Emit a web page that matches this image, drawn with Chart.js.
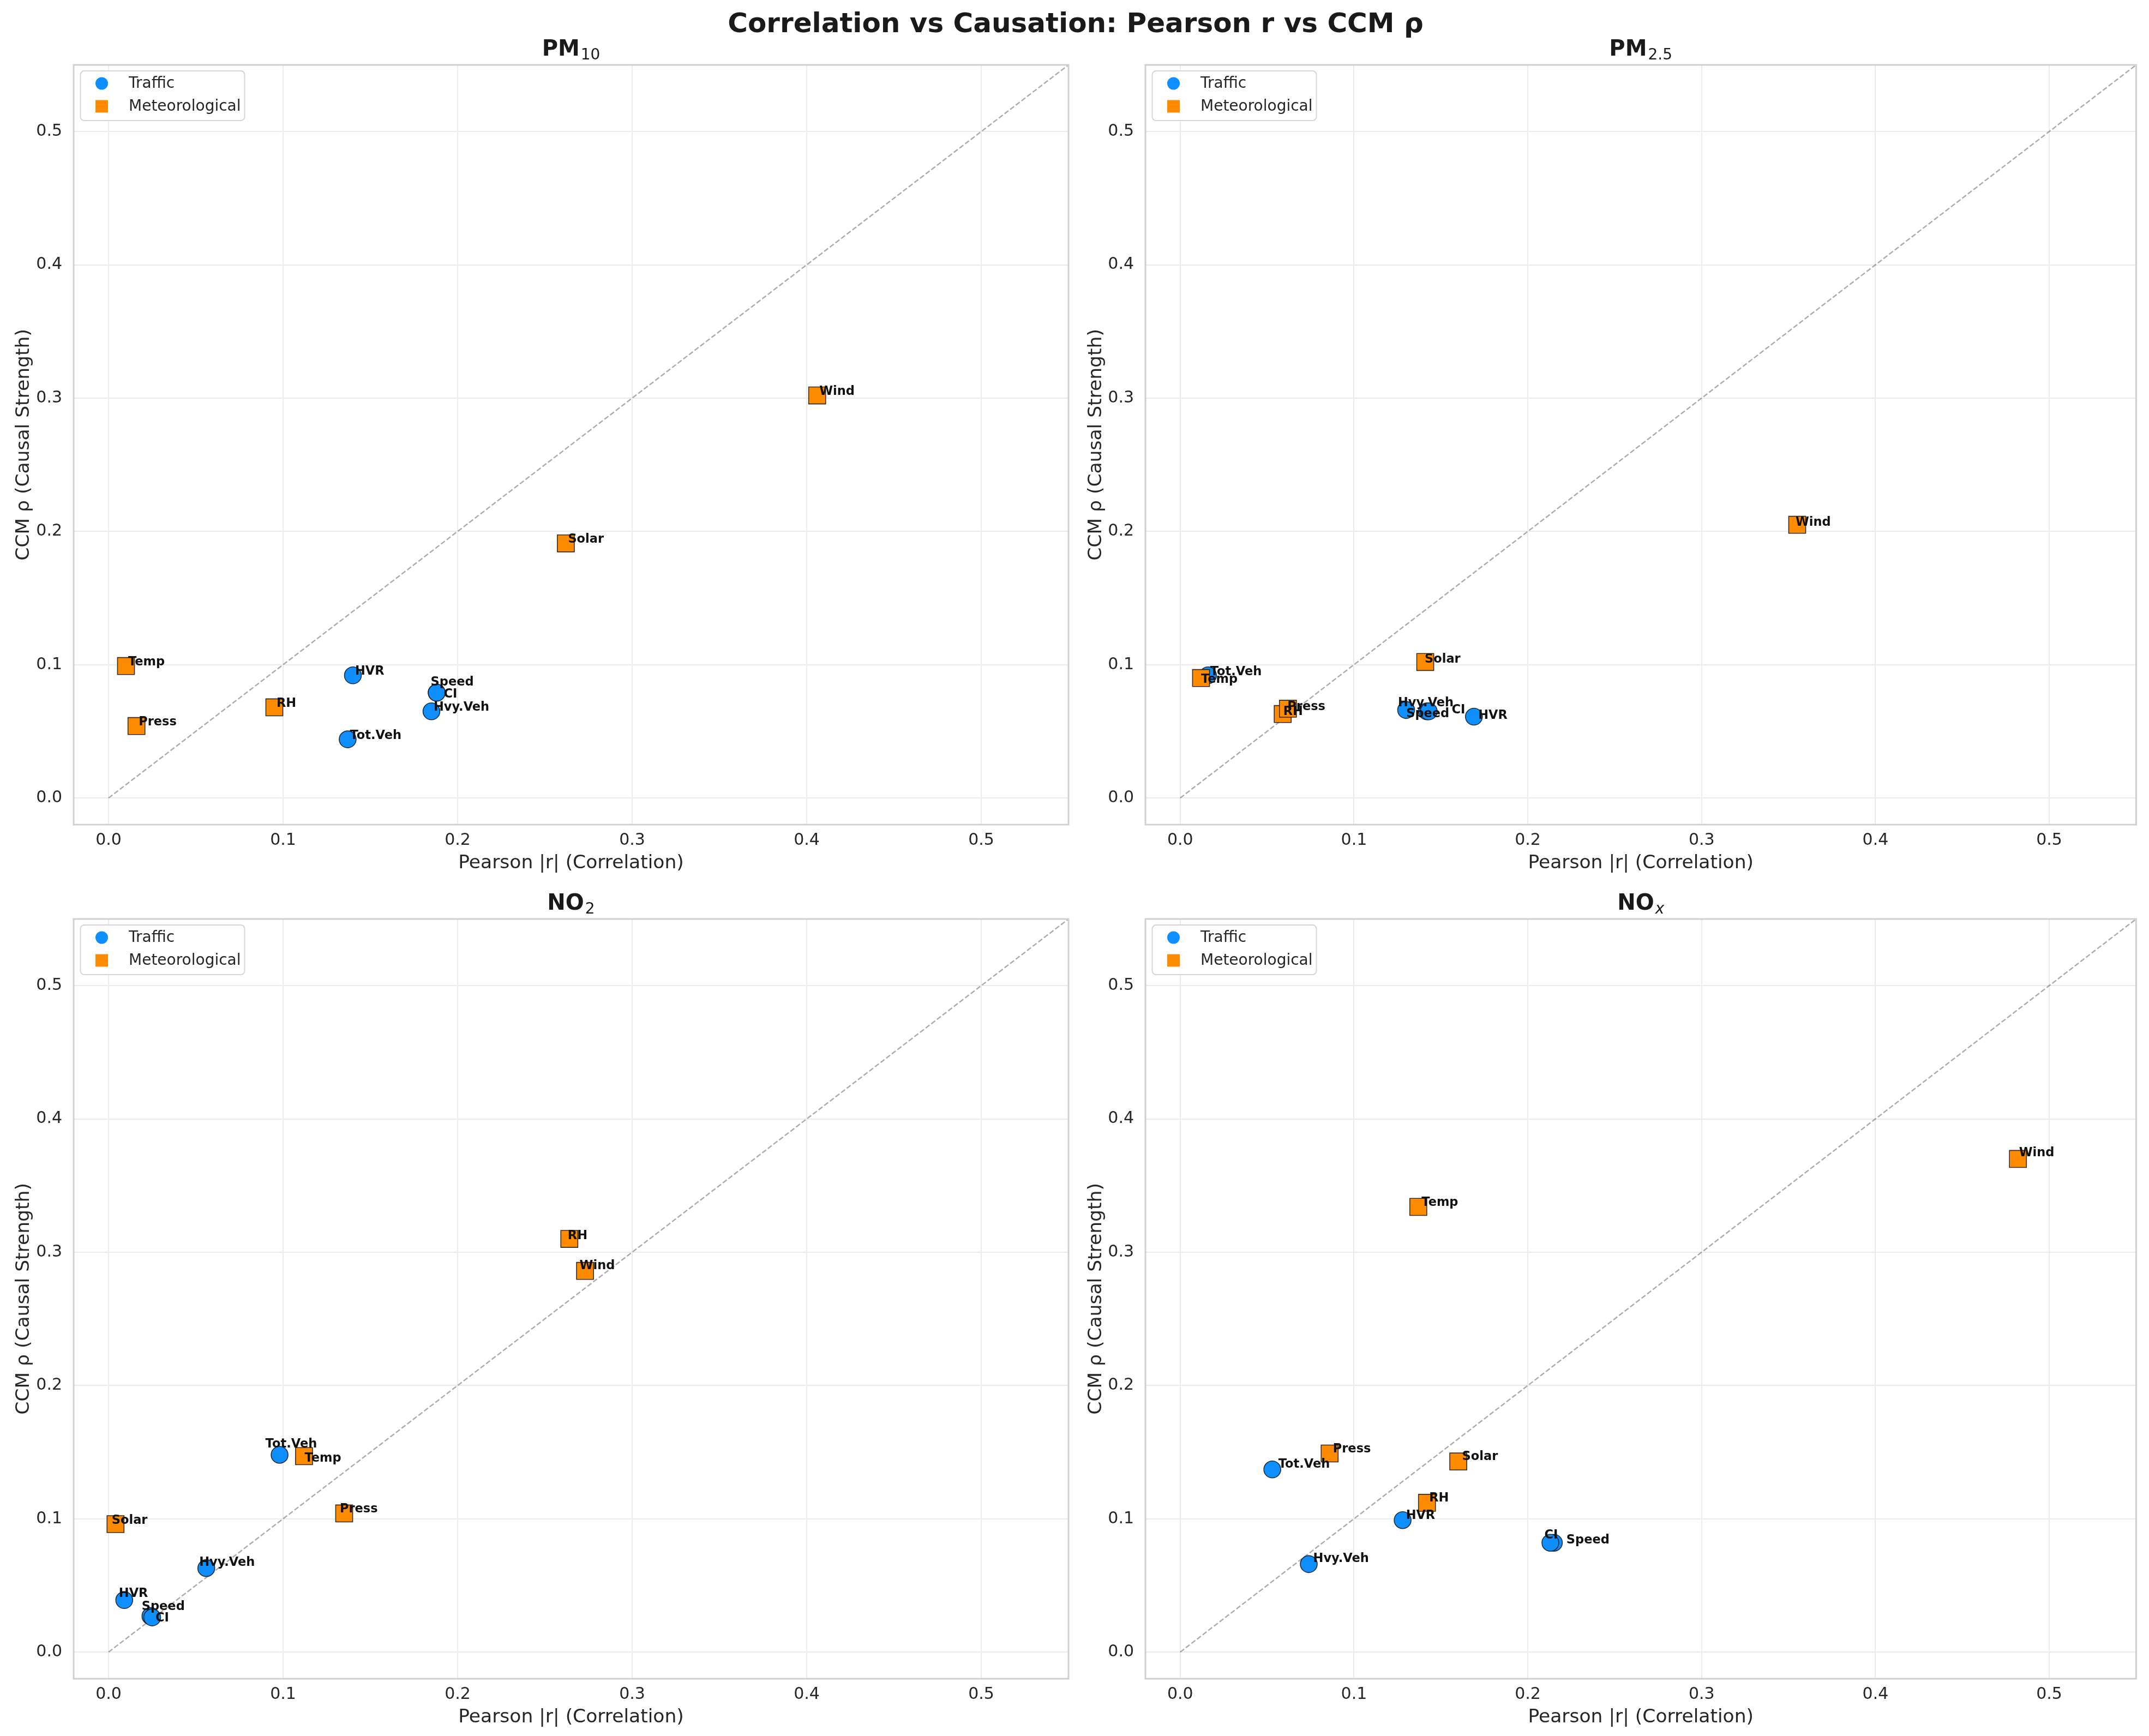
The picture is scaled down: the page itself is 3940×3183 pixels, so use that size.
<!DOCTYPE html>
<html>
<head>
<meta charset="utf-8">
<script src="https://cdn.jsdelivr.net/npm/chart.js@4.4.0/dist/chart.umd.min.js"></script>
<style>
html,body{margin:0;padding:0;background:#ffffff;}
#wrap{position:relative;width:3940px;height:3183px;background:#ffffff;}
#wrap canvas{position:absolute;left:0;top:0;}
</style>
</head>
<body>
<div id="wrap">
<canvas id="c0" width="3940" height="3183"></canvas>
<canvas id="c1" width="3940" height="3183"></canvas>
<canvas id="c2" width="3940" height="3183"></canvas>
<canvas id="c3" width="3940" height="3183"></canvas>
</div>
<script>
// ---------------- DATA ----------------
const mainTitle = 'Correlation vs Causation: Pearson r vs CCM ρ';
const xAxisTitle = 'Pearson |r| (Correlation)';
const yAxisTitle = 'CCM ρ (Causal Strength)';
const legendLabels = ['Traffic', 'Meteorological'];

const trafficVars = ['Tot.Veh', 'Hvy.Veh', 'HVR', 'Speed', 'CI'];
const meteoVars = ['Temp', 'RH', 'Press', 'Wind', 'Solar'];

const tickValues = [0.0, 0.1, 0.2, 0.3, 0.4, 0.5];
const axisLimits = [-0.02, 0.55];
const diagonal = [0, 0.55];

// PM10
const pm10TrafficR   = [0.137, 0.185, 0.140, 0.188, 0.188];
const pm10TrafficCCM = [0.044, 0.065, 0.092, 0.079, 0.079];
const pm10MeteoR     = [0.010, 0.095, 0.016, 0.406, 0.262];
const pm10MeteoCCM   = [0.099, 0.068, 0.054, 0.302, 0.191];
// PM2.5
const pm25TrafficR   = [0.016, 0.130, 0.169, 0.142, 0.143];
const pm25TrafficCCM = [0.092, 0.066, 0.061, 0.065, 0.065];
const pm25MeteoR     = [0.012, 0.059, 0.062, 0.355, 0.141];
const pm25MeteoCCM   = [0.090, 0.063, 0.067, 0.205, 0.102];
// NO2
const no2TrafficR    = [0.098, 0.056, 0.009, 0.024, 0.025];
const no2TrafficCCM  = [0.148, 0.063, 0.039, 0.027, 0.026];
const no2MeteoR      = [0.112, 0.264, 0.135, 0.273, 0.004];
const no2MeteoCCM    = [0.147, 0.310, 0.104, 0.286, 0.096];
// NOx
const noxTrafficR    = [0.053, 0.074, 0.128, 0.215, 0.213];
const noxTrafficCCM  = [0.137, 0.066, 0.099, 0.082, 0.082];
const noxMeteoR      = [0.137, 0.142, 0.086, 0.482, 0.160];
const noxMeteoCCM    = [0.334, 0.112, 0.149, 0.370, 0.143];

// ---------------- STYLE / LAYOUT ----------------
const BLUE = '#0e8ffd';
const ORANGE = '#ff8c00';
const EDGE = 'rgba(20,20,20,0.85)';
const TXT = '#262626';
const FONT = '"DejaVu Sans", sans-serif';

// label nudges in pixels [dx, dy] relative to the marker centre (text baseline)
const defaultNudge = [4, -1];
const labelNudges = [
  { 'Speed': [-11, -13], 'CI': [13, 9] },
  { 'Hvy.Veh': [-15, -7], 'Speed': [-38, 11], 'CI': [42, 4], 'Temp': [0, 9], 'HVR': [8, 4],
    'Wind': [-3, 2], 'Press': [-1, 3], 'RH': [1, 2], 'Solar': [-1, 1], 'Tot.Veh': [4, 0] },
  { 'Tot.Veh': [-26, -13], 'Temp': [1, 10], 'Press': [-8, -2], 'Solar': [-7, -1], 'Hvy.Veh': [-13, -4],
    'HVR': [-10, -6], 'Speed': [-16, -11], 'CI': [6, 7], 'RH': [-3, 0], 'Wind': [-10, -3] },
  { 'Press': [6, -2], 'Tot.Veh': [11, -3], 'Solar': [7, -3], 'RH': [4, -2], 'HVR': [6, -2],
    'CI': [-11, -8], 'Speed': [23, 1], 'Hvy.Veh': [8, -4], 'Temp': [6, -2], 'Wind': [2, -5] }
];

const panels = [
  { title: ['PM', '10', false], tR: pm10TrafficR, tC: pm10TrafficCCM, mR: pm10MeteoR, mC: pm10MeteoCCM,
    pad: { left: 23, top: 119, right: 1981, bottom: 1579 }, yW: 112, mainTitle: true },
  { title: ['PM', '2.5', false], tR: pm25TrafficR, tC: pm25TrafficCCM, mR: pm25MeteoR, mC: pm25MeteoCCM,
    pad: { left: 1989, top: 119, right: 16, bottom: 1579 }, yW: 111 },
  { title: ['NO', '2', false], tR: no2TrafficR, tC: no2TrafficCCM, mR: no2MeteoR, mC: no2MeteoCCM,
    pad: { left: 23, top: 1685, right: 1981, bottom: 13 }, yW: 112 },
  { title: ['NO', 'x', true], tR: noxTrafficR, tC: noxTrafficCCM, mR: noxMeteoR, mC: noxMeteoCCM,
    pad: { left: 1989, top: 1685, right: 16, bottom: 13 }, yW: 111 }
];

Chart.defaults.font.family = FONT;

function roundRectPath(ctx, x, y, w, h, r) {
  ctx.beginPath();
  ctx.moveTo(x + r, y);
  ctx.lineTo(x + w - r, y);
  ctx.arcTo(x + w, y, x + w, y + r, r);
  ctx.lineTo(x + w, y + h - r);
  ctx.arcTo(x + w, y + h, x + w - r, y + h, r);
  ctx.lineTo(x + r, y + h);
  ctx.arcTo(x, y + h, x, y + h - r, r);
  ctx.lineTo(x, y + r);
  ctx.arcTo(x, y, x + r, y, r);
  ctx.closePath();
}

function makePlugin(pi) {
  const panel = panels[pi];
  return {
    id: 'decor' + pi,
    afterDatasetsDraw(chart) {
      const ctx = chart.ctx;
      ctx.save();
      ctx.font = 'bold 22.5px ' + FONT;
      ctx.fillStyle = '#111111';
      ctx.textAlign = 'left';
      ctx.textBaseline = 'alphabetic';
      chart.data.datasets.forEach((ds, di) => {
        if (!ds.names) return;
        const meta = chart.getDatasetMeta(di);
        meta.data.forEach((el, i) => {
          const name = ds.names[i];
          const n = labelNudges[pi][name] || defaultNudge;
          ctx.fillText(name, el.x + n[0], el.y + n[1]);
        });
      });
      ctx.restore();
    },
    afterDraw(chart) {
      const ctx = chart.ctx;
      const a = chart.chartArea;
      ctx.save();
      // frame
      ctx.strokeStyle = '#d0d0d0';
      ctx.lineWidth = 3;
      ctx.strokeRect(a.left, a.top, a.right - a.left, a.bottom - a.top);
      // subplot title with subscript
      const cx = (a.left + a.right) / 2;
      const base = a.top - 17;
      const mainFont = 'bold 40px ' + FONT;
      const subFont = (panel.title[2] ? 'italic ' : '') + '28px ' + FONT;
      ctx.font = mainFont;
      const w1 = ctx.measureText(panel.title[0]).width;
      ctx.font = subFont;
      const w2 = ctx.measureText(panel.title[1]).width;
      const x0 = cx - (w1 + w2 + 2) / 2;
      ctx.fillStyle = '#1a1a1a';
      ctx.textAlign = 'left';
      ctx.textBaseline = 'alphabetic';
      ctx.font = mainFont;
      ctx.fillText(panel.title[0], x0, base);
      ctx.font = subFont;
      ctx.fillText(panel.title[1], x0 + w1 + 2, base + 7);
      // legend
      const lx = a.left + 12.5, ly = a.top + 11, lw = 301, lh = 91;
      roundRectPath(ctx, lx, ly, lw, lh, 7);
      ctx.fillStyle = 'rgba(255,255,255,0.85)';
      ctx.fill();
      ctx.strokeStyle = '#d6d6d6';
      ctx.lineWidth = 2;
      ctx.stroke();
      ctx.fillStyle = BLUE;
      ctx.beginPath();
      ctx.arc(lx + 39, ly + 23, 11.5, 0, Math.PI * 2);
      ctx.fill();
      ctx.fillStyle = ORANGE;
      ctx.fillRect(lx + 39 - 11.5, ly + 65 - 11.5, 23, 23);
      ctx.fillStyle = TXT;
      ctx.font = '28px ' + FONT;
      ctx.textBaseline = 'middle';
      ctx.fillText(legendLabels[0], lx + 88.5, ly + 24);
      ctx.fillText(legendLabels[1], lx + 88.5, ly + 66);
      // main figure title
      if (panel.mainTitle) {
        ctx.font = 'bold 50px ' + FONT;
        ctx.fillStyle = '#1a1a1a';
        ctx.textAlign = 'center';
        ctx.textBaseline = 'middle';
        ctx.fillText(mainTitle, 1972, 46);
      }
      ctx.restore();
    }
  };
}

function axisCommon(isX, yW) {
  return {
    type: 'linear',
    position: isX ? 'bottom' : 'left',
    min: axisLimits[0],
    max: axisLimits[1],
    afterBuildTicks: (s) => { s.ticks = tickValues.map(v => ({ value: v })); },
    afterFit: (s) => { if (isX) { s.height = 92; } else { s.width = yW; } },
    ticks: {
      padding: isX ? 11 : 21,
      font: { family: FONT, size: 30 },
      color: TXT,
      autoSkip: false,
      maxRotation: 0,
      callback: (v) => Number(v).toFixed(1)
    },
    grid: { color: '#ebebeb', lineWidth: 2, drawTicks: false },
    border: { display: false },
    title: {
      display: true,
      text: isX ? xAxisTitle : yAxisTitle,
      font: { family: FONT, size: 34.5 },
      color: TXT,
      padding: { top: 0, bottom: 0 }
    }
  };
}

panels.forEach((p, pi) => {
  const ctx = document.getElementById('c' + pi).getContext('2d');
  new Chart(ctx, {
    type: 'scatter',
    data: {
      datasets: [
        {
          label: legendLabels[1],
          names: meteoVars,
          data: p.mR.map((r, i) => ({ x: r, y: p.mC[i] })),
          pointStyle: 'rect',
          pointRadius: 22,
          backgroundColor: ORANGE,
          borderColor: EDGE,
          borderWidth: 1.6,
          order: 0
        },
        {
          label: legendLabels[0],
          names: trafficVars,
          data: p.tR.map((r, i) => ({ x: r, y: p.tC[i] })),
          pointStyle: 'circle',
          pointRadius: 15.5,
          backgroundColor: BLUE,
          borderColor: EDGE,
          borderWidth: 1.6,
          order: 1
        },
        {
          type: 'line',
          label: 'y = x',
          data: diagonal.map(v => ({ x: v, y: v })),
          borderColor: 'rgba(0,0,0,0.32)',
          borderWidth: 2.5,
          borderDash: [9, 4],
          pointRadius: 0,
          fill: false,
          order: 2
        }
      ]
    },
    options: {
      responsive: false,
      animation: false,
      devicePixelRatio: 1,
      events: [],
      layout: { padding: p.pad },
      plugins: {
        legend: { display: false },
        title: { display: false },
        tooltip: { enabled: false }
      },
      scales: {
        x: axisCommon(true, p.yW),
        y: axisCommon(false, p.yW)
      }
    },
    plugins: [makePlugin(pi)]
  });
});
</script>
</body>
</html>
